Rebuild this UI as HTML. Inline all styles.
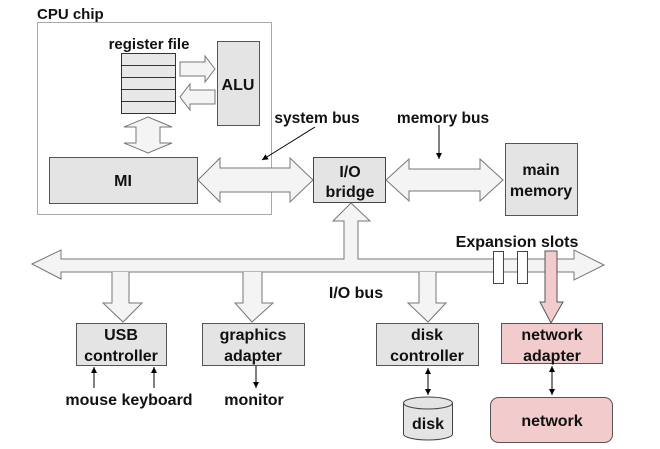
<!DOCTYPE html>
<html><head><meta charset="utf-8"><style>
html,body{margin:0;padding:0;background:#fff;}
svg{display:block;}
text{font-family:"Liberation Sans",sans-serif;font-weight:bold;fill:#111;}
</style></head><body>
<svg width="660" height="449" viewBox="0 0 660 449" xmlns="http://www.w3.org/2000/svg">
<defs>
<marker id="ah" markerWidth="8" markerHeight="8" refX="6" refY="3" orient="auto" markerUnits="userSpaceOnUse"><path d="M0,0 L6,3 L0,6 z" fill="#000"/></marker>
<marker id="as" markerWidth="8" markerHeight="8" refX="0" refY="3" orient="auto" markerUnits="userSpaceOnUse"><path d="M6,0 L0,3 L6,6 z" fill="#000"/></marker>
</defs>
<!-- CPU chip -->
<text x="37" y="19" font-size="15">CPU chip</text>
<rect x="37.5" y="22.5" width="234" height="192" fill="#fff" stroke="#aaa" stroke-width="1"/>
<text x="149" y="49" font-size="15" text-anchor="middle">register file</text>
<g fill="#e8e8e8" stroke="#333" stroke-width="1">
<rect x="121.5" y="53.5" width="54" height="12"/>
<rect x="121.5" y="65.5" width="54" height="12"/>
<rect x="121.5" y="77.5" width="54" height="12"/>
<rect x="121.5" y="89.5" width="54" height="12"/>
<rect x="121.5" y="101.5" width="54" height="12"/>
</g>
<rect x="217.5" y="41.5" width="42" height="84" fill="#e4e4e4" stroke="#555"/>
<text x="238" y="90" font-size="16" text-anchor="middle">ALU</text>
<g fill="#f4f4f4" stroke="#777" stroke-width="1">
<path d="M180,62 H205 V56 L215,69 L205,82 V76 H180 Z"/>
<path d="M215,90 H190 V84 L180,97 L190,110 V104 H215 Z"/>
<path d="M148,117 L172,127 H160 V143 H172 L148,153 L124,143 H136 V127 H124 Z"/>
</g>
<rect x="49.5" y="157.5" width="148" height="46" fill="#e4e4e4" stroke="#555"/>
<text x="123" y="186" font-size="16" text-anchor="middle">MI</text>
<!-- system bus -->
<path d="M198,180 L220,158 V168 H290 V158 L313,180 L290,202 V192 H220 V202 Z" fill="#f4f4f4" stroke="#777"/>
<text x="317" y="123" font-size="15.5" text-anchor="middle">system bus</text>
<line x1="315" y1="127" x2="262" y2="160" stroke="#000" stroke-width="1" marker-end="url(#ah)"/>
<rect x="313.5" y="157.5" width="72" height="45" fill="#e4e4e4" stroke="#444"/>
<text x="350" y="177" font-size="16" text-anchor="middle">I/O</text>
<text x="350" y="197" font-size="16" text-anchor="middle">bridge</text>
<!-- memory bus -->
<path d="M386,180 L409,159 V169 H480 V159 L503,180 L480,201 V191 H409 V201 Z" fill="#f4f4f4" stroke="#777"/>
<text x="443" y="123" font-size="15.5" text-anchor="middle">memory bus</text>
<line x1="439" y1="125" x2="439" y2="159" stroke="#000" marker-end="url(#ah)"/>
<rect x="505.5" y="143.5" width="72" height="72" fill="#e4e4e4" stroke="#555"/>
<text x="541" y="175" font-size="16" text-anchor="middle">main</text>
<text x="541" y="196" font-size="16" text-anchor="middle">memory</text>
<!-- I/O bus -->
<path d="M32,264 L61,250 V259 H344 V221 H333 L351,203 L370,221 H358 V259 H574 V250 L604,265 L574,280 V272 H61 V279 Z" fill="#f4f4f4" stroke="#777"/>
<g fill="#f4f4f4" stroke="#777">
<path d="M112,272 V303 H103 L123,322 L142,303 H129 V272"/>
<path d="M243,272 V303 H235 L252,322 L273,303 H262 V272"/>
<path d="M419,272 V303 H408 L428,322 L446,303 H436 V272"/>
</g>
<text x="356" y="298" font-size="16" text-anchor="middle">I/O bus</text>
<text x="517" y="247" font-size="16" text-anchor="middle">Expansion slots</text>
<rect x="493.5" y="251.5" width="10" height="32" fill="#fff" stroke="#444"/>
<rect x="517.5" y="251.5" width="10" height="32" fill="#fff" stroke="#444"/>
<path d="M545,251 H557 V302 H563 L551,323 L540,302 H545 Z" fill="#f2cccc" stroke="#555"/>
<!-- devices -->
<rect x="76.5" y="323.5" width="90" height="42" fill="#e4e4e4" stroke="#555"/>
<text x="121" y="340" font-size="16" text-anchor="middle">USB</text>
<text x="121" y="361" font-size="16" text-anchor="middle">controller</text>
<rect x="202.5" y="323.5" width="102" height="42" fill="#e4e4e4" stroke="#555"/>
<text x="253" y="340" font-size="16" text-anchor="middle">graphics</text>
<text x="253" y="361" font-size="16" text-anchor="middle">adapter</text>
<rect x="376.5" y="323.5" width="102" height="42" fill="#e4e4e4" stroke="#555"/>
<text x="427" y="340" font-size="16" text-anchor="middle">disk</text>
<text x="427" y="361" font-size="16" text-anchor="middle">controller</text>
<rect x="501.5" y="323.5" width="101" height="40" fill="#f2cccc" stroke="#555"/>
<text x="552" y="340" font-size="16" text-anchor="middle">network</text>
<text x="552" y="361" font-size="16" text-anchor="middle">adapter</text>
<line x1="94" y1="388" x2="94" y2="367" stroke="#000" marker-end="url(#ah)"/>
<line x1="154" y1="388" x2="154" y2="367" stroke="#000" marker-end="url(#ah)"/>
<line x1="256" y1="366" x2="256" y2="388" stroke="#000" marker-end="url(#ah)"/>
<text x="129" y="405" font-size="16" text-anchor="middle">mouse keyboard</text>
<text x="254" y="405" font-size="16" text-anchor="middle">monitor</text>
<line x1="428" y1="368" x2="428" y2="395" stroke="#000" marker-start="url(#as)" marker-end="url(#ah)"/>
<path d="M403.5,403 V434 A24.5,6 0 0 0 452.5,434 V403" fill="#e4e4e4" stroke="#444"/>
<ellipse cx="428" cy="403" rx="24.5" ry="6" fill="#e4e4e4" stroke="#444"/>
<text x="428" y="429" font-size="16" text-anchor="middle">disk</text>
<line x1="552" y1="366" x2="552" y2="395" stroke="#000" marker-start="url(#as)" marker-end="url(#ah)"/>
<rect x="490.5" y="397.5" width="122" height="45" rx="8" fill="#f2cccc" stroke="#555"/>
<text x="552" y="426" font-size="16" text-anchor="middle">network</text>
</svg>
</body></html>
